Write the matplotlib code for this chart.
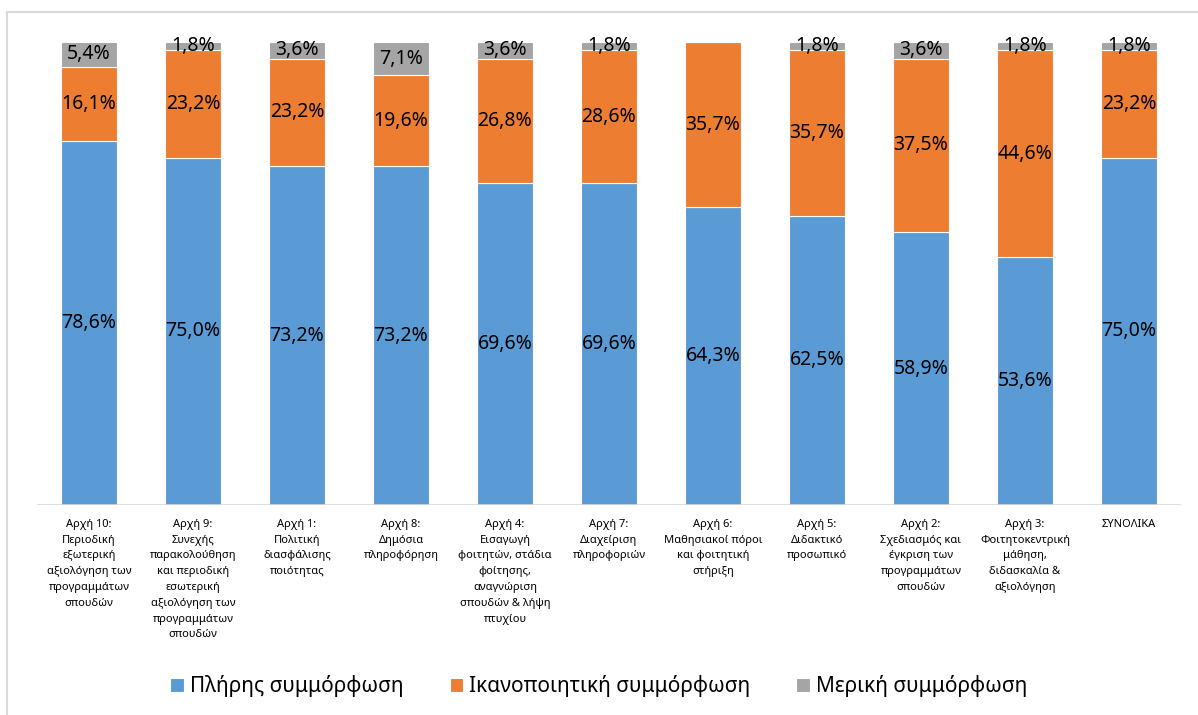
import matplotlib.pyplot as plt
from matplotlib.patches import Rectangle

plt.rcParams["font.family"] = ["Noto Sans", "DejaVu Sans"]

categories = [
    "Αρχή 10:\nΠεριοδική\nεξωτερική\nαξιολόγηση των\nπρογραμμάτων\nσπουδών",
    "Αρχή 9:\nΣυνεχής\nπαρακολούθηση\nκαι περιοδική\nεσωτερική\nαξιολόγηση των\nπρογραμμάτων\nσπουδών",
    "Αρχή 1:\nΠολιτική\nδιασφάλισης\nποιότητας",
    "Αρχή 8:\nΔημόσια\nπληροφόρηση",
    "Αρχή 4:\nΕισαγωγή\nφοιτητών, στάδια\nφοίτησης,\nαναγνώριση\nσπουδών & λήψη\nπτυχίου",
    "Αρχή 7:\nΔιαχείριση\nπληροφοριών",
    "Αρχή 6:\nΜαθησιακοί πόροι\nκαι φοιτητική\nστήριξη",
    "Αρχή 5:\nΔιδακτικό\nπροσωπικό",
    "Αρχή 2:\nΣχεδιασμός και\nέγκριση των\nπρογραμμάτων\nσπουδών",
    "Αρχή 3:\nΦοιτητοκεντρική\nμάθηση,\nδιδασκαλία &\nαξιολόγηση",
    "ΣΥΝΟΛΙΚΑ",
]
full = [78.6, 75.0, 73.2, 73.2, 69.6, 69.6, 64.3, 62.5, 58.9, 53.6, 75.0]
satisfactory = [16.1, 23.2, 23.2, 19.6, 26.8, 28.6, 35.7, 35.7, 37.5, 44.6, 23.2]
partial = [5.4, 1.8, 3.6, 7.1, 3.6, 1.8, 0.0, 1.8, 3.6, 1.8, 1.8]

series = [
    ("Πλήρης συμμόρφωση", full, "#5B9BD5"),
    ("Ικανοποιητική συμμόρφωση", satisfactory, "#ED7D31"),
    ("Μερική συμμόρφωση", partial, "#A5A5A5"),
]


def fmt(v):
    return f"{v:.1f}%".replace(".", ",")


W, H = 1198, 715
fig = plt.figure(figsize=(W / 100, H / 100), dpi=100)
ax = fig.add_axes([37 / W, (H - 505) / H, 1144 / W, 463 / H])

x = list(range(len(categories)))
bottoms = [0.0] * len(categories)
handles = []
for name, vals, color in series:
    bars = ax.bar(x, vals, width=0.53, bottom=bottoms, color=color,
                  edgecolor="white", linewidth=0.8, label=name)
    handles.append(bars)
    for xi, b, v in zip(x, bottoms, vals):
        if v > 0:
            ax.text(xi, b + v / 2, fmt(v), ha="center", va="center",
                    fontsize=14, color="black")
    bottoms = [b + v for b, v in zip(bottoms, vals)]

ax.set_xlim(-0.5, len(categories) - 0.5)
ax.set_ylim(0, 100)
ax.set_yticks([])
ax.set_xticks(x)
ax.set_xticklabels(categories, fontsize=8, linespacing=1.6, va="top")
ax.tick_params(axis="x", length=0, pad=10)
for s in ax.spines.values():
    s.set_visible(False)
ax.axhline(0, color="#D9D9D9", linewidth=1.2)

fig.legend(handles=handles, loc="center", bbox_to_anchor=(0.5, (H - 686) / H),
           ncol=3, frameon=False, fontsize=15, handlelength=0.65, handleheight=0.65,
           handletextpad=0.3, columnspacing=2.2)

# outer chart border (partially cropped)
fig.patches.append(Rectangle((7 / W, -0.1), 1.2, (H - 12) / H + 0.1,
                             transform=fig.transFigure, fill=False,
                             edgecolor="#D9D9D9", linewidth=1.5))

fig.savefig("out.png", dpi=100)
